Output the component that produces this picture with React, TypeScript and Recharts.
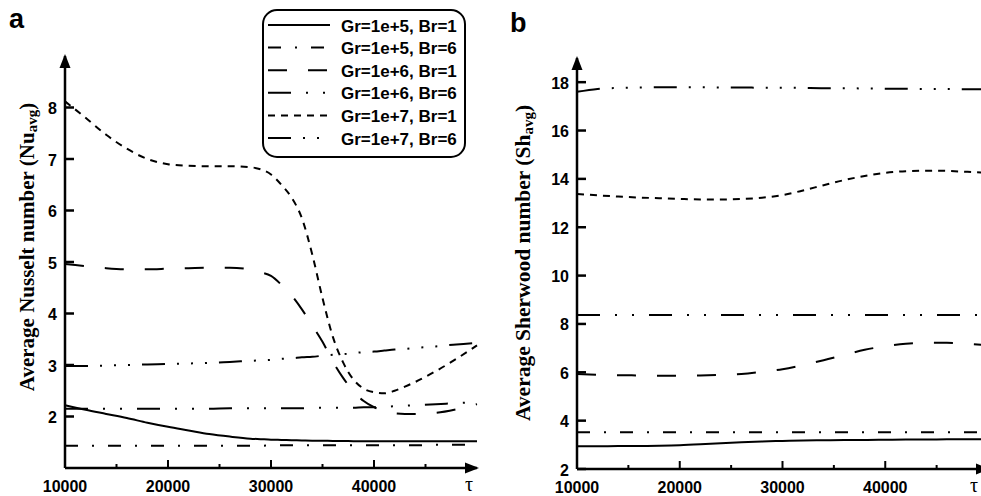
import React from 'react';
import { LineChart, Line, XAxis, YAxis, Legend, ReferenceDot } from 'recharts';

// panel a: average Nusselt number vs tau
const tauA = [
  10000, 12000, 14000, 16000, 18000, 20000, 22000, 24000, 26000, 28000, 29000, 30000, 31000, 32000, 33000,
  34000, 35000, 36000, 37000, 38000, 39000, 40000, 41000, 42000, 43000, 44000, 46000, 48000, 50000,
];
const nuGr5Br1 = [
  2.22, 2.13, 2.05, 1.97, 1.88, 1.8, 1.73, 1.66, 1.61, 1.57, 1.56, 1.55, 1.545, 1.54, 1.535,
  1.53, 1.53, 1.525, 1.525, 1.52, 1.52, 1.52, 1.52, 1.52, 1.52, 1.52, 1.52, 1.52, 1.52,
];
const nuGr5Br6 = [
  1.43, 1.43, 1.43, 1.43, 1.43, 1.43, 1.43, 1.43, 1.43, 1.43, 1.43, 1.44, 1.44, 1.44, 1.44,
  1.44, 1.44, 1.44, 1.44, 1.44, 1.44, 1.44, 1.44, 1.44, 1.44, 1.44, 1.45, 1.45, 1.45,
];
const nuGr6Br1 = [
  4.96, 4.92, 4.88, 4.86, 4.86, 4.87, 4.88, 4.89, 4.89, 4.85, 4.8, 4.73, 4.56, 4.35, 4.08,
  3.77, 3.45, 3.07, 2.75, 2.49, 2.3, 2.18, 2.1, 2.06, 2.05, 2.05, 2.07, 2.14, 2.24,
];
const nuGr6Br6 = [
  2.15, 2.15, 2.15, 2.15, 2.15, 2.15, 2.15, 2.15, 2.16, 2.16, 2.16, 2.16, 2.16, 2.16, 2.16,
  2.17, 2.17, 2.17, 2.17, 2.17, 2.18, 2.18, 2.19, 2.2, 2.21, 2.22, 2.24, 2.26, 2.28,
];
const nuGr7Br1 = [
  8.12, 7.8, 7.47, 7.2, 7.0, 6.9, 6.87, 6.86, 6.86, 6.84, 6.8, 6.7, 6.5, 6.25, 5.85,
  5.15, 4.3, 3.55, 3.05, 2.72, 2.54, 2.47, 2.45, 2.5, 2.58, 2.67, 2.88, 3.12, 3.38,
];
const nuGr7Br6 = [
  2.98, 2.98, 2.99, 3.0, 3.01, 3.02, 3.03, 3.04, 3.06, 3.08, 3.09, 3.1, 3.12, 3.13, 3.15,
  3.16, 3.18, 3.2, 3.21, 3.23, 3.25, 3.26, 3.28, 3.3, 3.31, 3.33, 3.36, 3.4, 3.43,
];

// panel b: average Sherwood number vs tau
const tauB = [
  10000, 12000, 14000, 16000, 18000, 20000, 22000, 24000, 26000, 28000, 30000,
  32000, 34000, 36000, 38000, 40000, 42000, 44000, 46000, 48000, 50000,
];
const shGr5Br1 = [2.94, 2.94, 2.95, 2.95, 2.96, 2.98, 3.02, 3.07, 3.11, 3.14, 3.16, 3.18, 3.19, 3.2, 3.2, 3.21, 3.22, 3.22, 3.23, 3.23, 3.24];
const shGr5Br6 = [3.52, 3.52, 3.52, 3.52, 3.52, 3.52, 3.52, 3.52, 3.52, 3.52, 3.52, 3.52, 3.52, 3.52, 3.52, 3.52, 3.52, 3.52, 3.52, 3.52, 3.52];
const shGr6Br1 = [5.93, 5.9, 5.88, 5.87, 5.86, 5.86, 5.87, 5.89, 5.93, 6.02, 6.13, 6.3, 6.5, 6.72, 6.93, 7.08, 7.18, 7.22, 7.22, 7.18, 7.12];
const shGr6Br6 = [8.37, 8.37, 8.37, 8.37, 8.37, 8.37, 8.37, 8.37, 8.37, 8.37, 8.37, 8.37, 8.37, 8.37, 8.37, 8.37, 8.37, 8.37, 8.37, 8.37, 8.37];
const shGr7Br1 = [13.38, 13.32, 13.27, 13.23, 13.2, 13.17, 13.15, 13.15, 13.17, 13.22, 13.33, 13.52, 13.74, 13.95, 14.12, 14.25, 14.32, 14.34, 14.33, 14.29, 14.25];
const shGr7Br6 = [17.6, 17.72, 17.76, 17.78, 17.79, 17.79, 17.79, 17.78, 17.78, 17.77, 17.77, 17.76, 17.75, 17.75, 17.74, 17.73, 17.73, 17.72, 17.72, 17.71, 17.71];

const xTicks = [10000, 15000, 20000, 25000, 30000, 35000, 40000, 45000, 50000];
const nuTicks = [2, 3, 4, 5, 6, 7, 8];
const shTicks = [2, 4, 6, 8, 10, 12, 14, 16, 18];

const series = [
  { key: 'gr5br1', name: 'Gr=1e+5, Br=1', dash: undefined },
  { key: 'gr5br6', name: 'Gr=1e+5, Br=6', dash: '13 14 2 14' },
  { key: 'gr6br1', name: 'Gr=1e+6, Br=1', dash: '19 21' },
  { key: 'gr6br6', name: 'Gr=1e+6, Br=6', dash: '23 15 2 15 2 15' },
  { key: 'gr7br1', name: 'Gr=1e+7, Br=1', dash: '7 6' },
  { key: 'gr7br6', name: 'Gr=1e+7, Br=6', dash: '23 12 2 12 2 12 2 12' },
];

const dataA = tauA.map((tau, i) => ({
  tau,
  gr5br1: nuGr5Br1[i],
  gr5br6: nuGr5Br6[i],
  gr6br1: nuGr6Br1[i],
  gr6br6: nuGr6Br6[i],
  gr7br1: nuGr7Br1[i],
  gr7br6: nuGr7Br6[i],
}));

const dataB = tauB.map((tau, i) => ({
  tau,
  gr5br1: shGr5Br1[i],
  gr5br6: shGr5Br6[i],
  gr6br1: shGr6Br1[i],
  gr6br6: shGr6Br6[i],
  gr7br1: shGr7Br1[i],
  gr7br6: shGr7Br6[i],
}));

const SANS = '"Liberation Sans", Arial, sans-serif';
const SERIF = '"Liberation Serif", "Times New Roman", serif';

// ticks point into the plot, minor ones are shorter and unlabeled
const XTick = ({ x, y, payload, tauShift = -8 }: any) => {
  const v = payload.value;
  const major = v % 10000 === 0;
  if (v === 50000) {
    return (
      <text x={x + tauShift} y={y + 16} textAnchor="middle" dominantBaseline="central" fontFamily={SERIF} fontSize={20} fill="#000">
        τ
      </text>
    );
  }
  return (
    <g>
      <line x1={x} x2={x} y1={y} y2={y - (major ? 8 : 4)} stroke="#000" strokeWidth={2} />
      {major && (
        <text x={x} y={y + 18} textAnchor="middle" dominantBaseline="central" fontFamily={SANS} fontWeight="bold" fontSize={16} fill="#000">
          {v}
        </text>
      )}
    </g>
  );
};

const YTick = ({ x, y, payload }: any) => (
  <g>
    <line x1={x} x2={x + 9} y1={y} y2={y} stroke="#000" strokeWidth={2.5} />
    <text x={x - 8} y={y + 1} textAnchor="end" dominantBaseline="central" fontFamily={SANS} fontWeight="bold" fontSize={16} fill="#000">
      {payload.value}
    </text>
  </g>
);

const UpArrow = ({ cx, cy }: any) => (
  <path d={`M${cx},${cy - 2} L${cx - 5.5},${cy + 12} L${cx + 5.5},${cy + 12} Z`} fill="#000" />
);
const RightArrow = ({ cx, cy }: any) => (
  <path d={`M${cx + 2},${cy} L${cx - 12},${cy - 5.5} L${cx - 12},${cy + 5.5} Z`} fill="#000" />
);

const LegendBox = () => (
  <svg width={205} height={150}>
    <rect x={1} y={1} width={202} height={147} rx={14} fill="#fff" stroke="#000" strokeWidth={2} />
    {series.map((s, i) => {
      const cy = 16 + i * 22.6;
      return (
        <g key={s.key}>
          <line x1={6} x2={68} y1={cy} y2={cy} stroke="#000" strokeWidth={2} strokeDasharray={s.dash} />
          <text x={79} y={cy + 1} dominantBaseline="central" fontFamily={SANS} fontWeight="bold" fontSize={17} fill="#000">
            {s.name}
          </text>
        </g>
      );
    })}
  </svg>
);

const axisStroke = { stroke: '#000', strokeWidth: 2.5 };

const renderLines = () =>
  series.map((s) => (
    <Line
      key={s.key}
      type="monotone"
      dataKey={s.key}
      name={s.name}
      stroke="#000"
      strokeWidth={2}
      strokeDasharray={s.dash}
      dot={false}
      activeDot={false}
      isAnimationActive={false}
    />
  ));

const App = () => {
  return (
    <div style={{ position: 'absolute', left: 0, top: 0, width: 981, height: 496, overflow: 'hidden', background: '#fff' }}>
      <div style={{ position: 'absolute', left: 0, top: 0 }}>
        <LineChart width={500} height={496} data={dataA} margin={{ top: 56, right: 23, left: 5, bottom: 0 }}>
          <XAxis
            dataKey="tau"
            type="number"
            domain={[10000, 50000]}
            ticks={xTicks}
            interval={0}
            height={28}
            tickSize={0}
            tickMargin={0}
            tickLine={false}
            tick={<XTick tauShift={-8} />}
            axisLine={axisStroke}
          />
          <YAxis
            type="number"
            domain={[1, 9]}
            ticks={nuTicks}
            interval={0}
            width={60}
            tickSize={0}
            tickMargin={0}
            tickLine={false}
            tick={<YTick />}
            axisLine={axisStroke}
          />
          {renderLines()}
          <ReferenceDot x={10000} y={9} ifOverflow="visible" shape={<UpArrow />} />
          <ReferenceDot x={50000} y={1} ifOverflow="visible" shape={<RightArrow />} />
          <Legend
            layout="vertical"
            align="center"
            verticalAlign="middle"
            content={() => <LegendBox />}
            wrapperStyle={{ left: 262, top: 9, width: 205, height: 150 }}
          />
        </LineChart>
      </div>

      <div style={{ position: 'absolute', left: 512, top: 0 }}>
        <LineChart width={499} height={496} data={dataB} margin={{ top: 58, right: 23, left: 5, bottom: 0 }}>
          <XAxis
            dataKey="tau"
            type="number"
            domain={[10000, 50000]}
            ticks={xTicks}
            interval={0}
            height={27}
            tickSize={0}
            tickMargin={0}
            tickLine={false}
            tick={<XTick tauShift={-14} />}
            axisLine={axisStroke}
          />
          <YAxis
            type="number"
            domain={[2, 19]}
            ticks={shTicks}
            interval={0}
            width={60}
            tickSize={0}
            tickMargin={0}
            tickLine={false}
            tick={<YTick />}
            axisLine={axisStroke}
          />
          {renderLines()}
          <ReferenceDot x={10000} y={19} ifOverflow="visible" shape={<UpArrow />} />
          <ReferenceDot x={50000} y={2} ifOverflow="visible" shape={<RightArrow />} />
        </LineChart>
      </div>

      {/* panel letters and axis titles */}
      <svg width={981} height={496} style={{ position: 'absolute', left: 0, top: 0, pointerEvents: 'none' }}>
        <text x={9} y={28} fontFamily={SANS} fontWeight="bold" fontSize={27} fill="#000">a</text>
        <text x={510} y={32} fontFamily={SANS} fontWeight="bold" fontSize={27} fill="#000">b</text>
        <text
          transform="translate(27,247) rotate(-90)"
          textAnchor="middle"
          dominantBaseline="central"
          fontFamily={SERIF}
          fontWeight="bold"
          fontSize={21}
          fill="#000"
        >
          Average Nusselt number (Nu<tspan dy={5} fontSize={15}>avg</tspan>
          <tspan dy={-5}>)</tspan>
        </text>
        <text
          transform="translate(523,263) rotate(-90)"
          textAnchor="middle"
          dominantBaseline="central"
          fontFamily={SERIF}
          fontWeight="bold"
          fontSize={21.5}
          fill="#000"
        >
          Average Sherwood number (Sh<tspan dy={5} fontSize={15}>avg</tspan>
          <tspan dy={-5}>)</tspan>
        </text>
      </svg>
    </div>
  );
};

export default App;
